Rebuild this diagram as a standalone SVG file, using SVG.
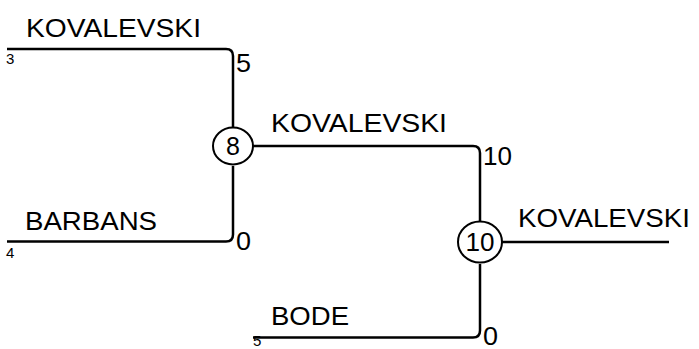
<svg xmlns="http://www.w3.org/2000/svg" width="699" height="349" viewBox="0 0 699 349">
<style>
.ln{fill:none;stroke:#000;stroke-width:2.5}
.nd{fill:#fff;stroke:#000;stroke-width:2}
.lb{font-family:"Liberation Sans",Arial,sans-serif;font-size:26px;fill:#000}
.nm{font-family:"Liberation Sans",Arial,sans-serif;font-size:25px;fill:#000}
.sm{font-family:"Liberation Sans",Arial,sans-serif;font-size:15px;fill:#000}
</style>
<rect width="699" height="349" fill="#fff"/>
<g id="connectors">
<path class="ln" d="M7,49 H226 Q233,49 233,56 V127"/>
<path class="ln" d="M7,241.5 H226 Q233,241.5 233,234.5 V166"/>
<path class="ln" d="M253,146 H473 Q480,146 480,153 V221"/>
<path class="ln" d="M253,337.5 H473 Q480,337.5 480,330.5 V264"/>
<path class="ln" d="M502,242 H669"/>
</g>
<g id="leaf-kovalevski">
<text class="lb" x="26" y="37" textLength="175" lengthAdjust="spacingAndGlyphs">KOVALEVSKI</text>
<text class="sm" x="6" y="64">3</text>
<text class="nm" x="236" y="72" textLength="15" lengthAdjust="spacingAndGlyphs">5</text>
</g>
<g id="leaf-barbans">
<text class="lb" x="25" y="230" textLength="132" lengthAdjust="spacingAndGlyphs">BARBANS</text>
<text class="sm" x="6" y="258">4</text>
<text class="nm" x="236" y="250" textLength="15" lengthAdjust="spacingAndGlyphs">0</text>
</g>
<g id="leaf-bode">
<text class="lb" x="271" y="325" textLength="78" lengthAdjust="spacingAndGlyphs">BODE</text>
<text class="sm" x="253" y="346" font-size="11">5</text>
<text class="nm" x="483" y="345" textLength="15" lengthAdjust="spacingAndGlyphs">0</text>
</g>
<g id="node-8">
<ellipse class="nd" cx="233" cy="146" rx="20" ry="18.5"/>
<text class="nm" x="233" y="155" text-anchor="middle">8</text>
</g>
<g id="node-mid-label">
<text class="lb" x="271" y="132" textLength="176" lengthAdjust="spacingAndGlyphs">KOVALEVSKI</text>
<text class="nm" x="483" y="165" textLength="29" lengthAdjust="spacingAndGlyphs">10</text>
</g>
<g id="node-10">
<ellipse class="nd" cx="480" cy="242" rx="22" ry="20.5"/>
<text class="nm" x="480" y="251" text-anchor="middle" textLength="29" lengthAdjust="spacingAndGlyphs">10</text>
</g>
<g id="winner">
<text class="lb" x="518" y="227" textLength="172" lengthAdjust="spacingAndGlyphs">KOVALEVSKI</text>
</g>
</svg>
